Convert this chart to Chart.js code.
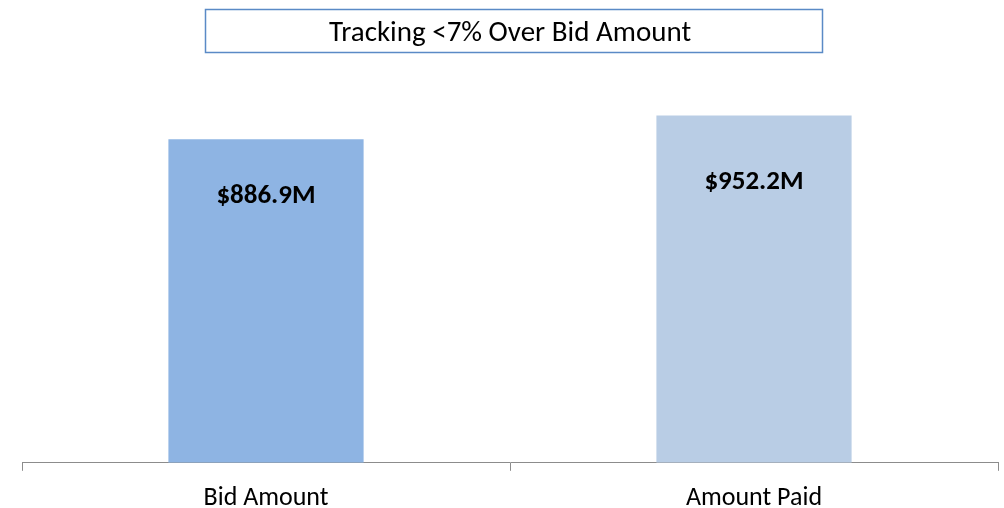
<!DOCTYPE html>
<html>
<head>
<meta charset="utf-8">
<script src="https://cdn.jsdelivr.net/npm/chart.js@4"></script>
<style>
html,body{margin:0;padding:0;background:#fff;}
#wrap{width:1004px;height:508px;position:relative;}
</style>
</head>
<body>
<div id="wrap"><canvas id="c" width="1004" height="508"></canvas></div>
<script>
const categories = ["Bid Amount", "Amount Paid"];
const values = [886.9, 952.2];
const valueLabels = ["$886.9M", "$952.2M"];
const barColors = ["#8EB4E3", "#B9CDE5"];
const titleText = "Tracking <7% Over Bid Amount";
const FONT = "Carlito, Calibri, Lato, 'Open Sans', sans-serif";

const titleBoxPlugin = {
  id: 'titleBox',
  afterDraw(chart) {
    const ctx = chart.ctx;
    ctx.save();
    ctx.strokeStyle = '#5A8AC6';
    ctx.lineWidth = 1.5;
    ctx.strokeRect(205.5, 9.5, 617, 43);
    ctx.restore();
  }
};

const labelOffsets = [57, 67];
const valueLabelPlugin = {
  id: 'valueLabels',
  afterDatasetsDraw(chart) {
    const ctx = chart.ctx;
    const meta = chart.getDatasetMeta(0);
    ctx.save();
    ctx.font = "bold 27px " + FONT;
    ctx.fillStyle = '#000';
    ctx.textAlign = 'center';
    ctx.textBaseline = 'middle';
    meta.data.forEach((bar, i) => {
      ctx.fillText(valueLabels[i], bar.x, bar.y + labelOffsets[i]);
    });
    ctx.restore();
  }
};

new Chart(document.getElementById('c'), {
  type: 'bar',
  data: {
    labels: categories,
    datasets: [{
      data: values,
      backgroundColor: barColors,
      borderWidth: 0,
      barPercentage: 0.8,
      categoryPercentage: 0.5
    }]
  },
  options: {
    responsive: false,
    animation: false,
    layout: { padding: { left: 22, right: 6, top: 0, bottom: -18 } },
    plugins: {
      legend: { display: false },
      tooltip: { enabled: false },
      title: {
        display: true,
        text: titleText,
        color: '#000',
        font: { family: FONT, size: 29, weight: 'normal', lineHeight: 1.2 },
        padding: { top: 16, bottom: 47.2 }
      }
    },
    scales: {
      y: {
        display: false,
        min: 0,
        max: 1000
      },
      x: {
        offset: true,
        grid: {
          offset: true,
          drawOnChartArea: false,
          drawTicks: true,
          tickLength: 8,
          color: '#8C8C8C',
          lineWidth: 1
        },
        border: { display: true, color: '#8C8C8C', width: 1 },
        ticks: {
          color: '#000',
          padding: 12,
          font: { family: FONT, size: 26, lineHeight: 1.2 }
        }
      }
    }
  },
  plugins: [titleBoxPlugin, valueLabelPlugin]
});
</script>
</body>
</html>
